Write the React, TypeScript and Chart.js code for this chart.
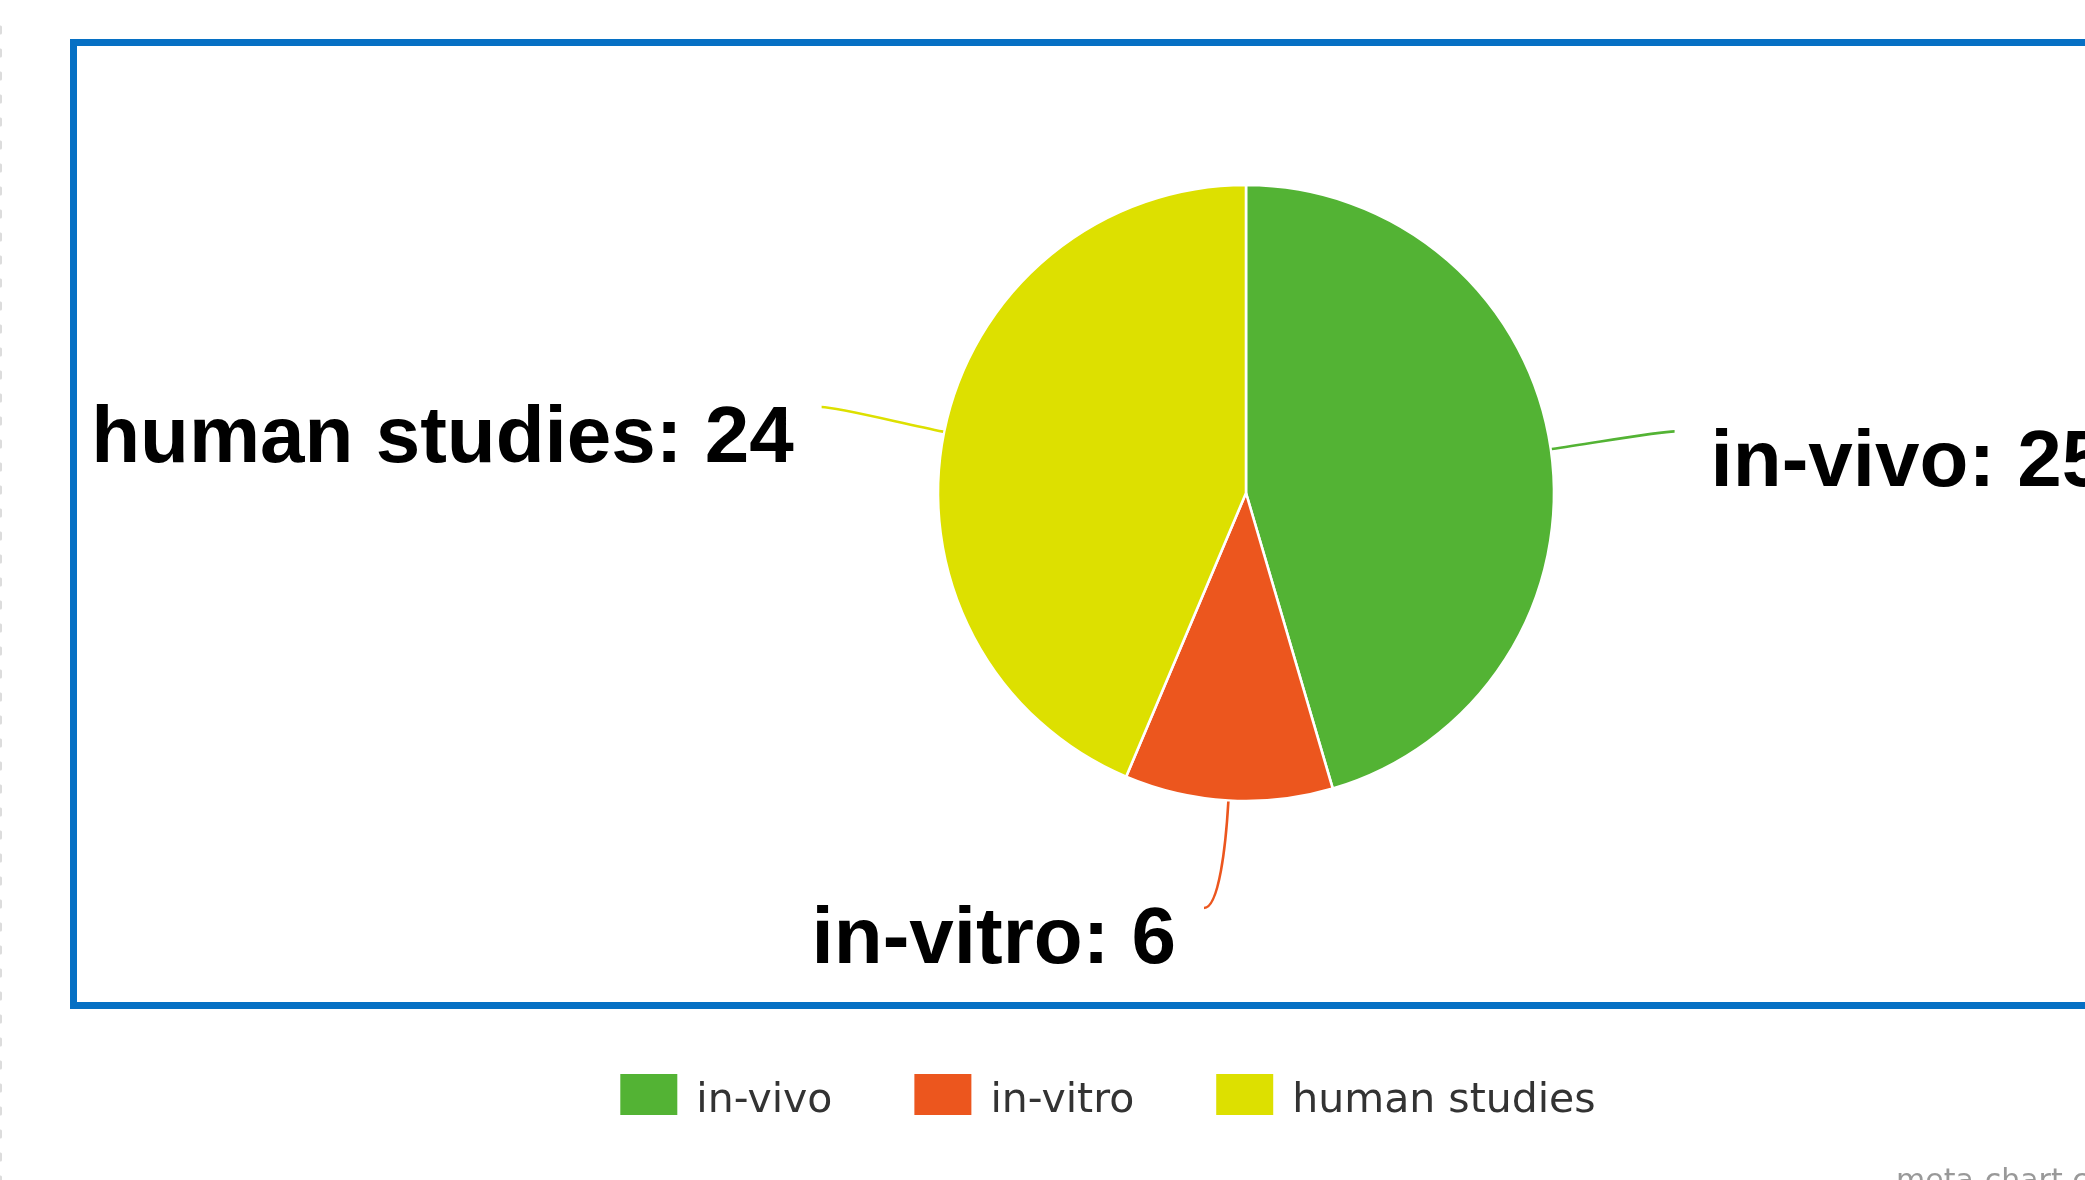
import React, { useEffect, useRef } from "react";
import { Chart, registerables } from "chart.js";

Chart.register(...registerables);

// ---- data ----
const categories: string[] = ["in-vivo", "in-vitro", "human studies"];
const values: number[] = [25, 6, 24];
const sliceColors: string[] = ["#53b334", "#ec561e", "#dde000"];
const footerText = "meta-chart.com";

// ---- layout constants ----
const CANVAS_W = 2400;
const CANVAS_H = 1180;
const LABEL_DIST = 125;
const LABEL_MAX_Y = 908;
const LEGEND_CX = 1108;

export default function App() {
  const ref = useRef<HTMLCanvasElement | null>(null);

  useEffect(() => {
    const canvas = ref.current;
    if (!canvas) return;

    const framePlugin = {
      id: "frame",
      beforeDraw(chart: any) {
        const ctx = chart.ctx;
        ctx.save();
        ctx.fillStyle = "#ffffff";
        ctx.fillRect(0, 0, chart.width, chart.height);
        // dotted left edge
        ctx.strokeStyle = "#dcdcdc";
        ctx.lineWidth = 3;
        ctx.lineCap = "round";
        ctx.setLineDash([6, 17]);
        ctx.beginPath();
        ctx.moveTo(0.5, 27);
        ctx.lineTo(0.5, chart.height);
        ctx.stroke();
        ctx.setLineDash([]);
        ctx.lineCap = "butt";
        // blue frame
        ctx.strokeStyle = "#0670c4";
        ctx.lineWidth = 7;
        ctx.strokeRect(73.5, 42.5, chart.width, 963);
        ctx.restore();
      },
    };

    const labelPlugin = {
      id: "outLabels",
      afterDatasetsDraw(chart: any) {
        const ctx = chart.ctx;
        const meta = chart.getDatasetMeta(0);
        const ds = chart.data.datasets[0];
        ctx.save();
        meta.data.forEach((arc: any, i: number) => {
          const p = arc.getProps(["x", "y", "startAngle", "endAngle", "outerRadius"], true);
          const mid = (p.startAngle + p.endAngle) / 2;
          const dx = Math.cos(mid);
          const dy = Math.sin(mid);
          const ex = p.x + dx * (p.outerRadius + 1);
          const ey = p.y + dy * (p.outerRadius + 1);
          let ax = p.x + dx * (p.outerRadius + LABEL_DIST);
          let ay = p.y + dy * (p.outerRadius + LABEL_DIST);
          const left = dx < 0;
          const sgn = left ? -1 : 1;
          if (ay > LABEL_MAX_Y) {
            ax += sgn * (ay - LABEL_MAX_Y);
            ay = LABEL_MAX_Y;
          }
          const color = ds.backgroundColor[i];
          ctx.strokeStyle = color;
          ctx.lineWidth = 2.6;
          ctx.beginPath();
          ctx.moveTo(ax, ay);
          ctx.bezierCurveTo(
            ax - sgn * 15,
            ay,
            ex + dx * LABEL_DIST * 0.35,
            ey + dy * LABEL_DIST * 0.35,
            ex,
            ey
          );
          ctx.stroke();

          const text = `${chart.data.labels[i]}: ${ds.data[i]}`;
          ctx.fillStyle = "#000000";
          ctx.font = 'bold 80px "Liberation Sans", Arial, sans-serif';
          ctx.textBaseline = "alphabetic";
          ctx.textAlign = left ? "right" : "left";
          ctx.fillText(text, left ? ax - 28 : ax + 36, ay + 55);
        });
        ctx.restore();
      },
    };

    const legendPlugin = {
      id: "customLegend",
      afterDraw(chart: any) {
        const ctx = chart.ctx;
        const ds = chart.data.datasets[0];
        const labels: string[] = chart.data.labels;
        ctx.save();
        ctx.font = '41px "DejaVu Sans", sans-serif';
        const boxW = 57;
        const boxH = 41;
        const gapText = 19;
        const itemGap = 82;
        const widths = labels.map((l) => boxW + gapText + ctx.measureText(l).width);
        const total = widths.reduce((a, b) => a + b, 0) + itemGap * (labels.length - 1);
        let x = LEGEND_CX - total / 2;
        const boxTop = 1074;
        labels.forEach((l, i) => {
          ctx.fillStyle = ds.backgroundColor[i];
          ctx.fillRect(x, boxTop, boxW, boxH);
          ctx.fillStyle = "#333333";
          ctx.textAlign = "left";
          ctx.textBaseline = "alphabetic";
          ctx.fillText(l, x + boxW + gapText, 1112);
          x += widths[i] + itemGap;
        });
        ctx.font = '30px "DejaVu Sans", sans-serif';
        ctx.fillStyle = "#999999";
        ctx.fillText(footerText, 1896, 1190);
        ctx.restore();
      },
    };

    const chart = new Chart(canvas, {
      type: "pie",
      data: {
        labels: categories,
        datasets: [
          {
            data: values,
            backgroundColor: sliceColors,
            borderColor: "#ffffff",
            borderWidth: 2.6,
            hoverOffset: 0,
            offset: 0,
            radius: 308,
          } as any,
        ],
      },
      options: {
        responsive: false,
        animation: false,
        devicePixelRatio: 1,
        layout: { padding: { left: 938, right: 846, top: 185, bottom: 379 } },
        plugins: {
          legend: { display: false },
          tooltip: { enabled: false },
        },
      } as any,
      plugins: [framePlugin, labelPlugin, legendPlugin],
    });

    return () => {
      chart.destroy();
    };
  }, []);

  return (
    <div
      style={{
        position: "fixed",
        left: 0,
        top: 0,
        width: 2085,
        height: 1180,
        overflow: "hidden",
        background: "#fff",
      }}
    >
      <canvas
        ref={ref}
        width={CANVAS_W}
        height={CANVAS_H}
        style={{ display: "block", width: CANVAS_W, height: CANVAS_H }}
      />
    </div>
  );
}
